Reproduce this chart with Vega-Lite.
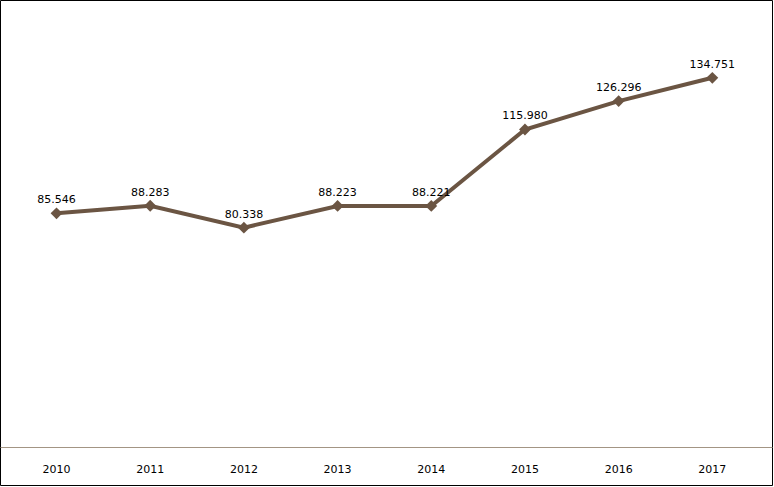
{
  "$schema": "https://vega.github.io/schema/vega-lite/v6.json",
  "width": 772,
  "height": 485,
  "padding": {"left": 0, "top": 0, "right": 2, "bottom": 2},
  "autosize": {"type": "none"},
  "background": "white",
  "config": {"view": {"stroke": "black", "strokeWidth": 1}},
  "data": {"values": [
    {"year": "2010", "value": 85.546},
    {"year": "2011", "value": 88.283},
    {"year": "2012", "value": 80.338},
    {"year": "2013", "value": 88.223},
    {"year": "2014", "value": 88.221},
    {"year": "2015", "value": 115.980},
    {"year": "2016", "value": 126.296},
    {"year": "2017", "value": 134.751}
  ]},
  "layer": [
    {
      "mark": {"type": "line", "color": "#6b5543", "strokeWidth": 4, "point": {"shape": "diamond", "filled": true, "size": 140, "color": "#6b5543"}},
      "encoding": {
        "x": {"field": "year", "type": "ordinal",
          "scale": {"type": "band", "paddingInner": 0, "paddingOuter": 0.12, "align": 0.43},
          "axis": {"title": null, "domain": true, "domainColor": "#a39584", "domainWidth": 1, "ticks": false, "grid": false, "labelAngle": 0,
            "offset": -38, "labelPadding": 16, "labelFont": "DejaVu Sans", "labelFontSize": 11, "labelColor": "black"}},
        "y": {"field": "value", "type": "quantitative", "scale": {"domain": [-13.1, 163], "zero": false, "nice": false}, "axis": null}
      }
    },
    {
      "mark": {"type": "text", "dy": -13, "font": "DejaVu Sans", "fontSize": 11, "color": "black"},
      "encoding": {
        "x": {"field": "year", "type": "ordinal"},
        "y": {"field": "value", "type": "quantitative"},
        "text": {"field": "value", "type": "quantitative", "format": ".3f"}
      }
    }
  ]
}
